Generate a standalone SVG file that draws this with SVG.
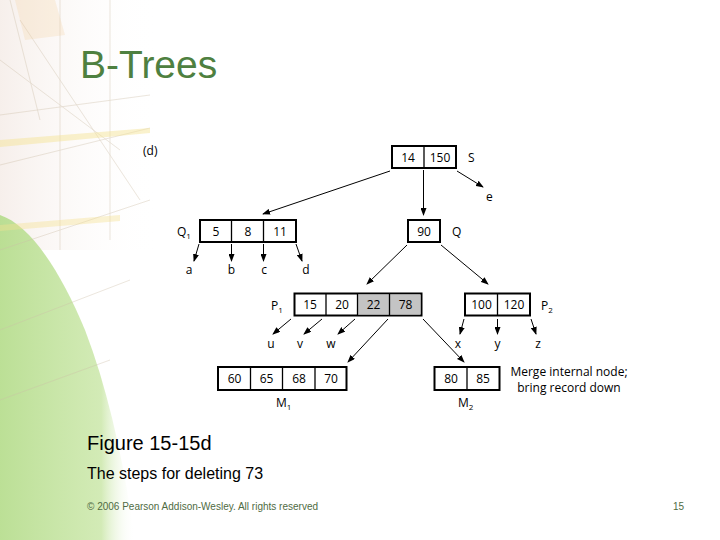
<svg xmlns="http://www.w3.org/2000/svg" width="720" height="540" viewBox="0 0 720 540">
<defs>
<linearGradient id="fadeR" x1="0" y1="0" x2="1" y2="0">
<stop offset="0" stop-color="#b4dc8a" stop-opacity="0.9"/>
<stop offset="0.75" stop-color="#c4e49e" stop-opacity="0.75"/>
<stop offset="1" stop-color="#ffffff" stop-opacity="0"/>
</linearGradient>
<linearGradient id="fadeTop" x1="0" y1="0" x2="1" y2="0">
<stop offset="0" stop-color="#f4ebe6" stop-opacity="0.8"/>
<stop offset="1" stop-color="#ffffff" stop-opacity="0"/>
</linearGradient>
<marker id="ah" markerWidth="8" markerHeight="6" refX="7" refY="3" orient="auto" markerUnits="userSpaceOnUse">
<path d="M0,0 L8,3 L0,6 z" fill="#000"/>
</marker>
<style>
.box{fill:#fff;stroke:#000;stroke-width:2}
.gray{fill:#c4c4c4}
.div{stroke:#000;stroke-width:1.3}
.t{font-family:"Open Sans","Noto Sans",sans-serif;font-size:12px;fill:#000;text-anchor:middle}
.lbl{font-family:"Open Sans","Noto Sans",sans-serif;font-size:12px;fill:#000}
.sub{font-size:8px}
.edge{stroke:#000;stroke-width:1;fill:none;marker-end:url(#ah)}
</style>
</defs>

<!-- background decoration -->
<g id="background">
<rect x="0" y="0" width="720" height="540" fill="#fff"/>
<rect x="0" y="0" width="160" height="250" fill="url(#fadeTop)"/>
<path d="M0,215 C30,225 60,270 85,330 C110,395 125,470 135,540 L0,540 Z" fill="url(#fadeR)"/>
<g stroke="#cdbfa8" stroke-width="0.7" fill="none" opacity="0.55">
<path d="M0,115 L150,95"/>
<path d="M0,165 L150,128"/>
<path d="M0,60 L120,150"/>
<path d="M10,0 L40,120"/>
<path d="M0,250 L150,200"/>
<path d="M0,330 L130,280"/>
<path d="M0,400 L110,360"/>
<path d="M20,20 L140,200"/>
<path d="M60,0 L60,250"/>
<path d="M110,0 L110,240"/>
</g>
<path d="M0,140 L150,128 L150,133 L0,147 Z" fill="#f5e290" opacity="0.45"/>
<path d="M0,225 L120,215 L120,221 L0,231 Z" fill="#f5e290" opacity="0.4"/>
<path d="M15,0 L55,0 L65,35 L25,40 Z" fill="#f2cf9a" opacity="0.25"/>
</g>

<text x="80" y="78" font-family="Liberation Sans, Arial, sans-serif" font-size="39" fill="#4e8040">B-Trees</text>
<text x="143" y="155" class="lbl">(d)</text>

<g id="connectors">
<line class="edge" x1="390" y1="171" x2="263" y2="214"/>
<line class="edge" x1="423.5" y1="170" x2="423.5" y2="215"/>
<line class="edge" x1="457" y1="171" x2="483" y2="187"/>
<line class="edge" x1="199" y1="244" x2="194" y2="261"/>
<line class="edge" x1="231.5" y1="244" x2="231.5" y2="261"/>
<line class="edge" x1="263.5" y1="244" x2="263.5" y2="261"/>
<line class="edge" x1="296" y1="244" x2="302" y2="261"/>
<line class="edge" x1="407" y1="245" x2="367" y2="284"/>
<line class="edge" x1="441" y1="245" x2="488" y2="284"/>
<line class="edge" x1="291" y1="319" x2="273" y2="334"/>
<line class="edge" x1="322" y1="319" x2="304" y2="334"/>
<line class="edge" x1="355" y1="319" x2="338" y2="334"/>
<line class="edge" x1="388" y1="319" x2="348" y2="362"/>
<line class="edge" x1="423" y1="319" x2="464" y2="362"/>
<line class="edge" x1="464" y1="319" x2="460" y2="334"/>
<line class="edge" x1="497.5" y1="319" x2="497.5" y2="334"/>
<line class="edge" x1="531" y1="319" x2="536" y2="334"/>
</g>

<g id="node-S">
<rect class="box" x="392" y="146" width="64" height="22"/>
<line class="div" x1="424" y1="146" x2="424" y2="168"/>
<text class="t" x="408" y="162">14</text>
<text class="t" x="440" y="162">150</text>
<text class="lbl" x="468" y="162">S</text>
<text class="lbl" x="486" y="201">e</text>
</g>

<g id="node-Q1">
<rect class="box" x="200" y="220" width="96" height="22"/>
<line class="div" x1="231.5" y1="220" x2="231.5" y2="242"/>
<line class="div" x1="263.5" y1="220" x2="263.5" y2="242"/>
<text class="t" x="216" y="236">5</text>
<text class="t" x="248" y="236">8</text>
<text class="t" x="280" y="236">11</text>
<text class="lbl" x="177" y="236">Q<tspan class="sub" dy="3">1</tspan></text>
<text class="t" x="189" y="274">a</text>
<text class="t" x="231.5" y="274">b</text>
<text class="t" x="264" y="274">c</text>
<text class="t" x="306" y="274">d</text>
</g>

<g id="node-Q">
<rect class="box" x="408" y="220" width="32" height="22"/>
<text class="t" x="424" y="236">90</text>
<text class="lbl" x="452" y="236">Q</text>
</g>

<g id="node-P1">
<rect class="box" x="294.5" y="293.5" width="127" height="22"/>
<rect class="gray" x="358" y="294.5" width="62.5" height="20"/>
<line class="div" x1="326" y1="293.5" x2="326" y2="315.5"/>
<line class="div" x1="357.5" y1="293.5" x2="357.5" y2="315.5"/>
<line class="div" x1="389.5" y1="293.5" x2="389.5" y2="315.5"/>
<text class="t" x="310" y="309">15</text>
<text class="t" x="342" y="309">20</text>
<text class="t" x="373.5" y="309">22</text>
<text class="t" x="405.5" y="309">78</text>
<text class="lbl" x="271" y="310">P<tspan class="sub" dy="3">1</tspan></text>
<text class="t" x="271" y="348">u</text>
<text class="t" x="300" y="348">v</text>
<text class="t" x="331" y="348">w</text>
</g>

<g id="node-P2">
<rect class="box" x="465" y="293.5" width="65" height="22"/>
<line class="div" x1="497.5" y1="293.5" x2="497.5" y2="315.5"/>
<text class="t" x="481.5" y="309">100</text>
<text class="t" x="514" y="309">120</text>
<text class="lbl" x="541" y="310">P<tspan class="sub" dy="3">2</tspan></text>
<text class="t" x="458" y="348">x</text>
<text class="t" x="497.5" y="348">y</text>
<text class="t" x="538" y="348">z</text>
</g>

<g id="node-M1">
<rect class="box" x="218" y="367" width="128.5" height="23"/>
<line class="div" x1="250.5" y1="367" x2="250.5" y2="390"/>
<line class="div" x1="282.5" y1="367" x2="282.5" y2="390"/>
<line class="div" x1="315" y1="367" x2="315" y2="390"/>
<text class="t" x="234.5" y="383">60</text>
<text class="t" x="266.5" y="383">65</text>
<text class="t" x="299" y="383">68</text>
<text class="t" x="331" y="383">70</text>
<text class="lbl" x="276" y="407">M<tspan class="sub" dy="3">1</tspan></text>
</g>

<g id="node-M2">
<rect class="box" x="434.5" y="367" width="65" height="23"/>
<line class="div" x1="467" y1="367" x2="467" y2="390"/>
<text class="t" x="451" y="383">80</text>
<text class="t" x="483" y="383">85</text>
<text class="lbl" x="458" y="407">M<tspan class="sub" dy="3">2</tspan></text>
</g>

<g id="note">
<text class="t" x="569" y="376">Merge internal node;</text>
<text class="t" x="569" y="392">bring record down</text>
</g>

<text x="87" y="450" font-family="Liberation Sans, Arial, sans-serif" font-size="20" fill="#000">Figure 15-15d</text>
<text x="87" y="479" font-family="Liberation Sans, Arial, sans-serif" font-size="16" fill="#000">The steps for deleting 73</text>
<text x="87" y="510" font-family="Liberation Sans, Arial, sans-serif" font-size="10" fill="#4f6b43" textLength="231">© 2006 Pearson Addison-Wesley. All rights reserved</text>
<text x="684" y="510" font-family="Liberation Sans, Arial, sans-serif" font-size="10" fill="#4f6b43" text-anchor="end">15</text>
</svg>
